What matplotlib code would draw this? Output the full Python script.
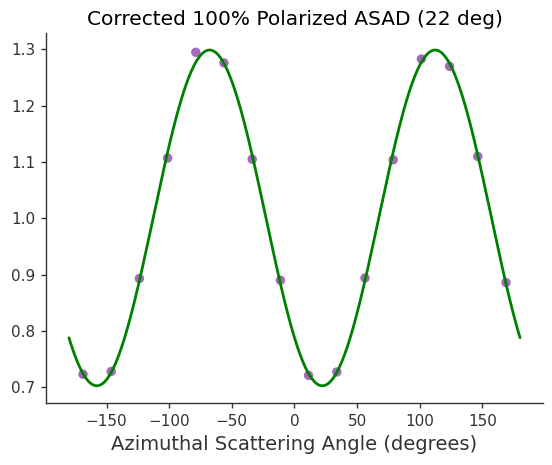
import numpy as np
import matplotlib
matplotlib.use("Agg")
import matplotlib.pyplot as plt
import seaborn as sns

# Data
angles = [-168.75, -146.25, -123.75, -101.25, -78.75, -56.25, -33.75, -11.25,
          11.25, 33.75, 56.25, 78.75, 101.25, 123.75, 146.25, 168.75]
counts = [0.723, 0.728, 0.893, 1.107, 1.295, 1.276, 1.105, 0.890,
          0.721, 0.727, 0.894, 1.104, 1.283, 1.270, 1.110, 0.886]
xticks = [-150, -100, -50, 0, 50, 100, 150]
yticks = [0.7, 0.8, 0.9, 1.0, 1.1, 1.2, 1.3]
title = "Corrected 100% Polarized ASAD (22 deg)"
xlabel = "Azimuthal Scattering Angle (degrees)"

sns.set_theme(style="ticks", context="notebook")
plt.rcParams['font.family'] = ['DejaVu Sans']

x = np.array(angles)
y = np.array(counts)
# Least-squares fit of A + B cos(2phi) + C sin(2phi)
r = np.radians(x)
M = np.column_stack([np.ones_like(r), np.cos(2 * r), np.sin(2 * r)])
coef, *_ = np.linalg.lstsq(M, y, rcond=None)
xf = np.linspace(-180, 180, 721)
rf = np.radians(xf)
yf = coef[0] + coef[1] * np.cos(2 * rf) + coef[2] * np.sin(2 * rf)

fig = plt.figure(figsize=(5.52, 4.65), dpi=100)
ax = fig.add_axes([0.084, 0.133, 0.899, 0.795])
ax.scatter(x, y, color='#9b59b6', s=46, zorder=2, edgecolors='none', alpha=0.9)
ax.plot(xf, yf, color='green', lw=2, zorder=3)
ax.set_xticks(xticks)
ax.set_yticks(yticks)
ax.set_xlim(-198, 198)
ax.set_ylim(0.6716, 1.3284)
ax.set_xlabel(xlabel, fontsize=14, color='#333333')
ax.set_title(title, fontsize=14.5, color='black')
ax.tick_params(labelsize=11, labelcolor='#333333', length=3.5, width=1.0,
               pad=4.5, color='#333333')
for s in ax.spines.values():
    s.set_linewidth(1.0)
    s.set_color('#333333')
sns.despine(ax=ax)
fig.savefig("out.png", dpi=100)
